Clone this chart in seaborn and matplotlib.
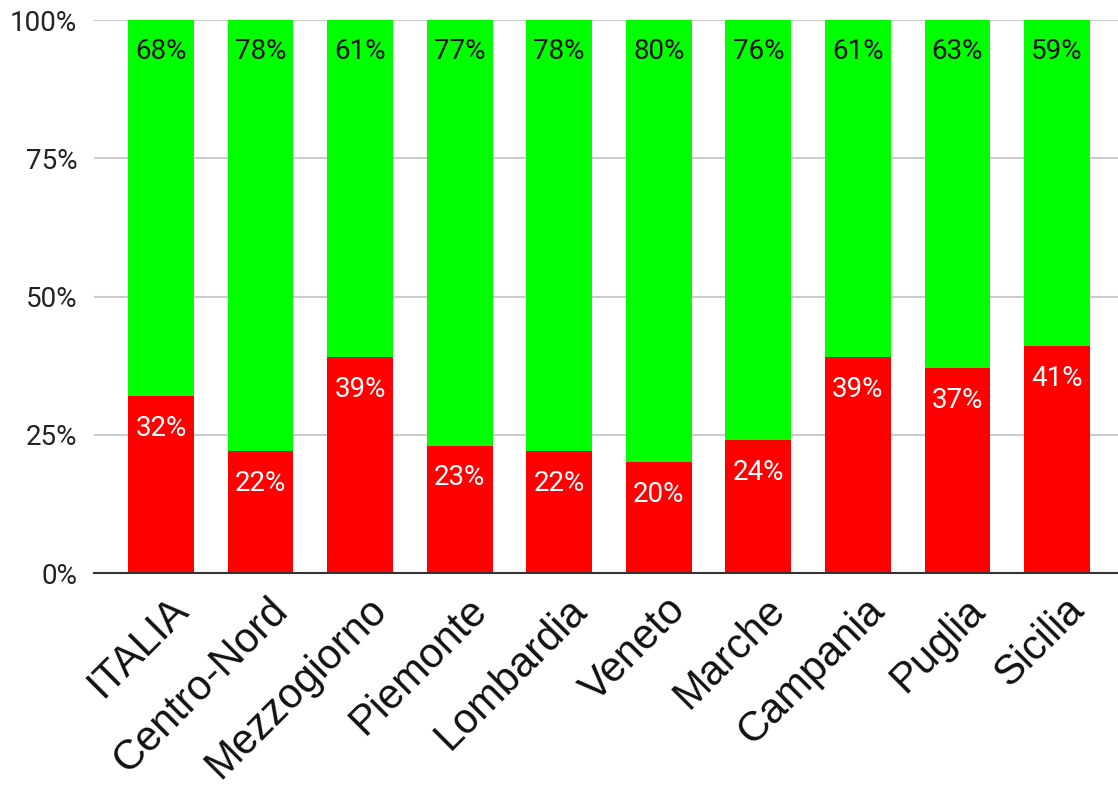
import matplotlib
matplotlib.use("Agg")
import matplotlib.pyplot as plt
import matplotlib.transforms as mtransforms
import seaborn as sns
import pandas as pd

regions = ["ITALIA", "Centro-Nord", "Mezzogiorno", "Piemonte", "Lombardia",
           "Veneto", "Marche", "Campania", "Puglia", "Sicilia"]
red_share = [32, 22, 39, 23, 22, 20, 24, 39, 37, 41]
green_share = [68, 78, 61, 77, 78, 80, 76, 61, 63, 59]
y_ticks = [0, 25, 50, 75, 100]

sns.set_style("white")
plt.rcParams["font.family"] = ["Roboto", "DejaVu Sans"]

df = pd.DataFrame({"region": regions, "red": red_share, "green": green_share})
df["total"] = df["red"] + df["green"]

fig = plt.figure(figsize=(11.18, 7.95), dpi=100)
ax = fig.add_axes([0.0841, 0.2792, 0.9159, 0.6956])

GREEN = "#00ff00"
RED = "#ff0000"

sns.barplot(data=df, x="region", y="total", color=GREEN, saturation=1,
            width=0.66, ax=ax, zorder=2, linewidth=0)
sns.barplot(data=df, x="region", y="red", color=RED, saturation=1,
            width=0.66, ax=ax, zorder=3, linewidth=0)

for i, (r, g) in enumerate(zip(red_share, green_share)):
    ax.annotate(f"{g}%", (i, r + g), xytext=(0, -23), textcoords="offset points",
                ha="center", va="center", fontsize=20, color="#111111", zorder=4)
    ax.annotate(f"{r}%", (i, r), xytext=(0, -23), textcoords="offset points",
                ha="center", va="center", fontsize=20, color="white", zorder=4)

ax.set_ylim(0, 100)
ax.set_xlim(-0.673, 9.613)
ax.set_yticks(y_ticks)
ax.set_yticklabels([f"{t}%" for t in y_ticks], fontsize=20, color="#222222")
ax.yaxis.grid(True, color="#cccccc", linewidth=1.5, zorder=0)
ax.set_axisbelow(True)
ax.tick_params(axis="y", length=0, pad=12)
ax.tick_params(axis="x", length=0, pad=12)

ax.set_xticks(range(len(regions)))
ax.set_xticklabels(regions, rotation=45, ha="right", va="top",
                   rotation_mode="anchor", fontsize=30, color="#111111",
                   family=["Liberation Sans", "DejaVu Sans"])
offset = mtransforms.ScaledTranslation(7 / 100, 0, fig.dpi_scale_trans)
for lbl in ax.get_xticklabels():
    lbl.set_transform(lbl.get_transform() + offset)

ax.set_xlabel("")
ax.set_ylabel("")
for side in ["top", "right", "left"]:
    ax.spines[side].set_visible(False)
ax.spines["bottom"].set_color("#333333")
ax.spines["bottom"].set_linewidth(1.5)
ax.spines["bottom"].set_zorder(5)

fig.savefig("out.png", dpi=100)
